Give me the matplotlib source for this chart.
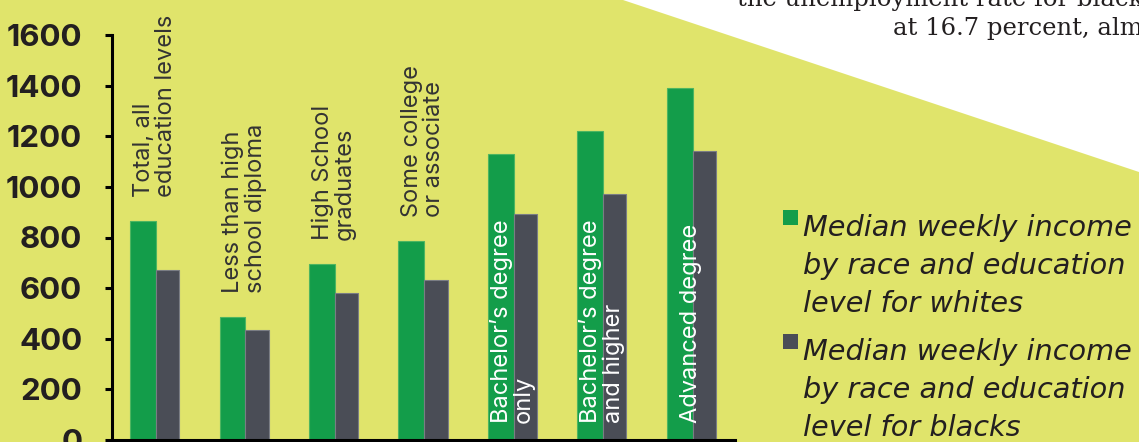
import numpy as np
import matplotlib.pyplot as plt
from matplotlib.patches import Polygon, Rectangle


categories = [
    "Total, all\neducation levels",
    "Less than high\nschool diploma",
    "High School\ngraduates",
    "Some college\nor associate",
    "Bachelor’s degree\nonly",
    "Bachelor’s degree\nand higher",
    "Advanced degree",
]
white_income = [865, 486, 695, 786, 1130, 1221, 1391]
black_income = [672, 435, 581, 632, 893, 972, 1142]
series_names = [
    "Median weekly income\nby race and education\nlevel for whites",
    "Median weekly income\nby race and education\nlevel for blacks",
]
y_ticks = [0, 200, 400, 600, 800, 1000, 1200, 1400, 1600]
intro_lines = ["the unemployment rate for blacks", "at 16.7 percent, almost"]

W, H = 1139, 442
BG = "#E0E46B"
GREEN = "#139D4A"
GREY = "#4A4D56"
INK = "#231F20"


def fig_xy(x, y):
    # pixel position (from top-left) -> figure fraction
    return x / W, 1 - y / H


def draw_chart(save_path):
    fig = plt.figure(figsize=(W / 100, H / 100), dpi=100, facecolor=BG)

    # white corner behind the article text
    fig.patches.append(Polygon(
        [fig_xy(623, 0), fig_xy(W, 0), fig_xy(W, 172)],
        closed=True, transform=fig.transFigure, facecolor="white",
        edgecolor="none", zorder=0))

    fig.text(*fig_xy(737, 6), intro_lines[0], fontsize=17.5,
             family="DejaVu Serif", color=INK, va="baseline")
    fig.text(*fig_xy(893, 35), intro_lines[1], fontsize=17.5,
             family="DejaVu Serif", color=INK, va="baseline")

    ax = fig.add_axes([112 / W, 2 / H, (735 - 112) / W, (440 - 35) / H])
    ax.set_facecolor("none")

    x = np.arange(len(categories))
    ax.bar(x - 0.13, white_income, width=0.29, color=GREEN,
           edgecolor="#4DB560", linewidth=0.8, zorder=2)
    ax.bar(x + 0.145, black_income, width=0.26, color=GREY,
           edgecolor="#7A7D84", linewidth=0.8, zorder=2)

    for i, label in enumerate(categories):
        if i < 4:
            ax.annotate(label, xy=(i, white_income[i]), xytext=(0, 17),
                        textcoords="offset points", rotation=90,
                        rotation_mode="anchor", ha="left", va="center",
                        fontsize=17, family="Inter", color="#333333",
                        linespacing=1.0, zorder=3)
        else:
            ax.annotate(label, xy=(i, 0), xytext=(0, 12),
                        textcoords="offset points", rotation=90,
                        rotation_mode="anchor", ha="left", va="center",
                        fontsize=17, family="Inter", color="white",
                        linespacing=1.0, zorder=3)

    ax.set_xlim(-0.478, 6.49)
    ax.set_ylim(0, 1600)
    ax.set_xticks([])
    ax.set_yticks(y_ticks)
    ax.set_yticklabels([str(t) for t in y_ticks])
    ax.tick_params(axis="y", length=5, width=2.2, pad=16.5,
                   labelsize=22.5, labelcolor=INK, color="black")
    for lbl in ax.get_yticklabels():
        lbl.set_fontweight("bold")
        lbl.set_family("Inter")

    for side in ["top", "right"]:
        ax.spines[side].set_visible(False)
    for side in ["left", "bottom"]:
        ax.spines[side].set_linewidth(2.2)
        ax.spines[side].set_color("black")

    # legend drawn by hand: square + three line italic text
    # (va="baseline" pins the last line of the block)
    for k, (name, colour) in enumerate(zip(series_names, [GREEN, GREY])):
        top = 210 + k * 124
        fig.patches.append(Rectangle(
            fig_xy(783, top + 15), 15 / W, 15 / H,
            transform=fig.transFigure, facecolor=colour, edgecolor="none"))
        fig.text(*fig_xy(803, top + 102), name, fontsize=20.7,
                 family="DejaVu Sans", style="italic", color=INK,
                 va="baseline", linespacing=1.45)

    fig.savefig(save_path, dpi=100, facecolor=BG)


if __name__ == "__main__":
    draw_chart("out.png")
